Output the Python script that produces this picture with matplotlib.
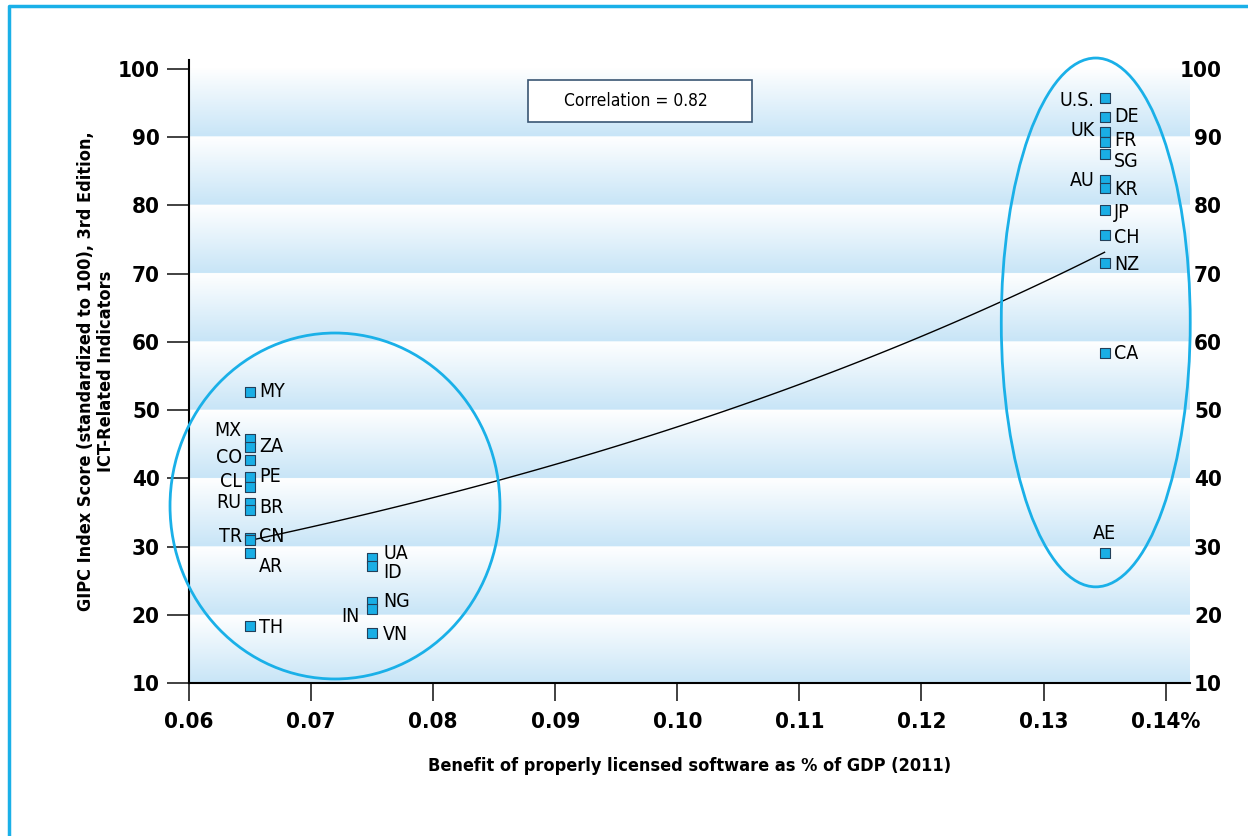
import numpy as np
import matplotlib
matplotlib.use('Agg')
import matplotlib.pyplot as plt
from matplotlib.patches import Ellipse, Rectangle
from matplotlib.lines import Line2D
from matplotlib.colors import LinearSegmentedColormap

plt.rcParams['font.family'] = ['DejaVu Sans']
plt.rcParams['font.stretch'] = 'condensed'

# data
countries = ['U.S.', 'DE', 'UK', 'FR', 'SG', 'AU', 'KR', 'JP', 'CH', 'NZ', 'CA', 'AE',
             'MY', 'MX', 'ZA', 'CO', 'PE', 'CL', 'RU', 'BR', 'TR', 'CN', 'AR', 'TH',
             'UA', 'ID', 'NG', 'IN', 'VN']
benefit = [0.135, 0.135, 0.135, 0.135, 0.135, 0.135, 0.135, 0.135, 0.135, 0.135, 0.135, 0.135,
           0.065, 0.065, 0.065, 0.065, 0.065, 0.065, 0.065, 0.065, 0.065, 0.065, 0.065, 0.065,
           0.075, 0.075, 0.075, 0.075, 0.075]
score = [95.8, 93.0, 90.7, 89.3, 87.5, 83.7, 82.5, 79.3, 75.6, 71.6, 58.3, 29.1,
         52.7, 45.8, 44.6, 42.7, 40.2, 38.7, 36.4, 35.3, 31.3, 31.0, 29.1, 18.4,
         28.3, 27.2, 21.9, 20.9, 17.3]
correlation = 0.82
x_ticks = [0.06, 0.07, 0.08, 0.09, 0.10, 0.11, 0.12, 0.13, 0.14]
x_ticklabels = ['0.06', '0.07', '0.08', '0.09', '0.10', '0.11', '0.12', '0.13', '0.14%']
y_ticks = [10, 20, 30, 40, 50, 60, 70, 80, 90, 100]

# label placement (points offset, alignment)
label_pos = {
    'U.S.': (-7, -2, 'right'), 'DE': (7, 0, 'left'), 'UK': (-7, 1, 'right'),
    'FR': (7, 1, 'left'), 'SG': (7, -5, 'left'), 'AU': (-7, 0, 'right'),
    'KR': (7, -1, 'left'), 'JP': (7, -1.5, 'left'), 'CH': (7, -1.5, 'left'),
    'NZ': (7, -1.5, 'left'), 'CA': (7, 0, 'left'), 'AE': (0, 14, 'center'),
    'MY': (6.5, 0, 'left'), 'MX': (-6, 6, 'right'), 'ZA': (6.5, 0.5, 'left'),
    'CO': (-6, 1.5, 'right'), 'PE': (6.5, 0, 'left'), 'CL': (-6, 4, 'right'),
    'RU': (-6, 0, 'right'), 'BR': (6.5, 2, 'left'), 'TR': (-6, 1, 'right'),
    'CN': (6.5, 2, 'left'), 'AR': (6.5, -10, 'left'), 'TH': (6.5, -1, 'left'),
    'UA': (8, 3.5, 'left'), 'ID': (8, -5, 'left'), 'NG': (8, 0.5, 'left'),
    'IN': (-9, -6, 'right'), 'VN': (8, -1, 'left'),
}

blue = '#1ab0e8'
W, H = 1248, 836
fig = plt.figure(figsize=(W / 100, H / 100), dpi=100)
ax = fig.add_axes([189 / W, 1 - 683 / H, (1190 - 189) / W, (683 - 60) / H])
xlim = (0.06, 0.142)
ylim = (10, 101.3)
ax.set_xlim(xlim)
ax.set_ylim(ylim)

# banded gradient background
cmap = LinearSegmentedColormap.from_list('band', ['#c8e5f7', '#ffffff'])
yy = np.linspace(10, 100, 900, endpoint=False)
frac = ((yy - 10) % 10) / 10
ax.imshow(frac[:, None], extent=[xlim[0], xlim[1], 10, 100], origin='lower',
          aspect='auto', cmap=cmap, vmin=0, vmax=1, zorder=0)

# exponential trend fitted on the data
x = np.array(benefit)
y = np.array(score)
b, a = np.polyfit(x, np.log(y), 1)
xf = np.linspace(0.065, 0.135, 100)
ax.plot(xf, np.exp(a + b * xf), color='black', lw=1, zorder=3)

ax.scatter(x, y, marker='s', s=55, facecolor='#1aaee5', edgecolor='#23405a',
           linewidths=0.8, zorder=4)
for c, xi, yi in zip(countries, benefit, score):
    dx, dy, ha = label_pos[c]
    ax.annotate(c, (xi, yi), xytext=(dx, dy), textcoords='offset points',
                ha=ha, va='center', fontsize=14, zorder=5)

ax.add_patch(Ellipse((0.07196, 35.94), 0.02703, 50.7, fill=False, edgecolor=blue,
                     lw=2, clip_on=False, zorder=3))
ax.add_patch(Ellipse((0.13428, 62.84), 0.01548, 77.5, fill=False, edgecolor=blue,
                     lw=2, clip_on=False, zorder=3))

for s in ['top', 'right']:
    ax.spines[s].set_visible(False)
ax.spines['left'].set_linewidth(1.5)
ax.spines['bottom'].set_linewidth(1.5)
ax.set_xticks(x_ticks)
ax.set_xticklabels(x_ticklabels, fontsize=16, fontweight='bold')
ax.set_yticks(y_ticks)
ax.set_yticklabels([str(v) for v in y_ticks], fontsize=16, fontweight='bold')
ax.tick_params(axis='y', length=16, width=1.3, color='#333333', pad=5)
ax.tick_params(axis='x', length=13, width=1.3, color='#333333', pad=8)
ax.set_xlabel('Benefit of properly licensed software as % of GDP (2011)',
              fontsize=13, fontweight='bold', labelpad=18)
ax.set_ylabel('GIPC Index Score (standardized to 100), 3rd Edition,\nICT-Related Indicators',
              fontsize=13, fontweight='bold', labelpad=2, linespacing=1.15)

ax2 = ax.twinx()
ax2.set_ylim(ylim)
ax2.set_yticks(y_ticks)
ax2.set_yticklabels([str(v) for v in y_ticks], fontsize=16, fontweight='bold')
ax2.tick_params(axis='y', length=0, pad=23)
for lbl in ax2.get_yticklabels():
    lbl.set_horizontalalignment('right')
for s in ax2.spines.values():
    s.set_visible(False)

# correlation box
fig.add_artist(Rectangle((528 / W, 1 - 122 / H), 224 / W, 42 / H, transform=fig.transFigure,
                         facecolor='white', edgecolor='#3a5673', lw=1.2))
fig.text(636 / W, 1 - 101 / H, 'Correlation = %.2f' % correlation, ha='center', va='center',
         fontsize=12.5)

# outer frame
fig.add_artist(Line2D([9 / W, 9 / W, 1.0], [0.0, 1 - 6 / H, 1 - 6 / H],
                      transform=fig.transFigure, color=blue, lw=2.5))

plt.savefig('out.png', dpi=100)
